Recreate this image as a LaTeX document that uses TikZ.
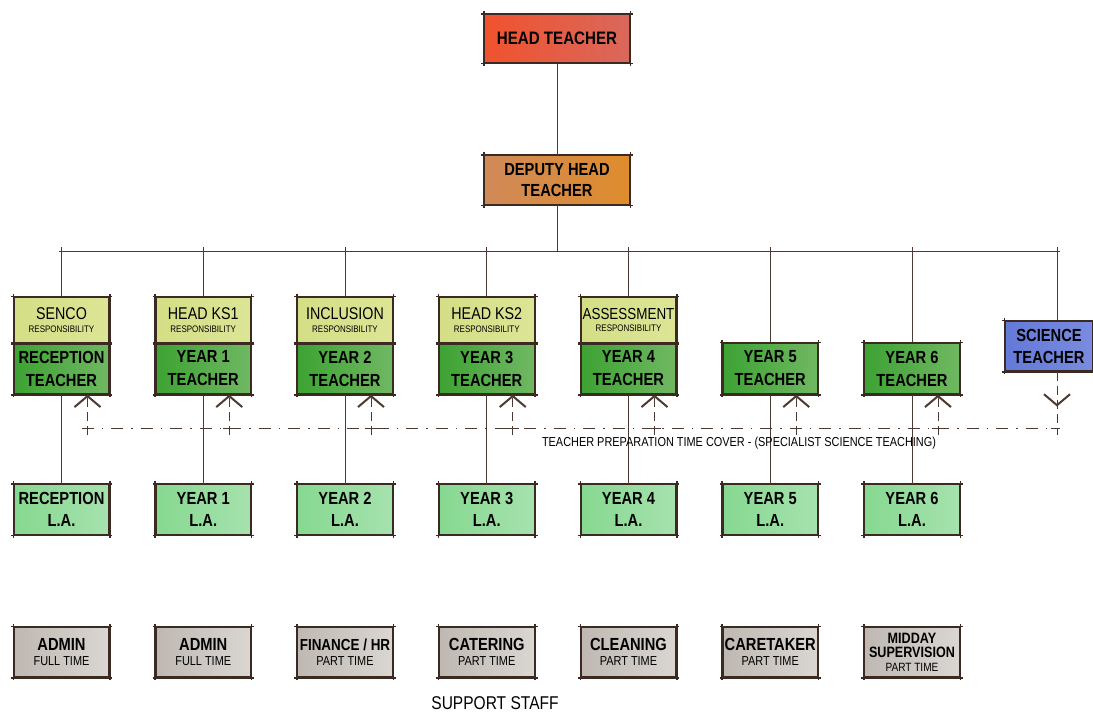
\documentclass[tikz,border=0pt]{standalone}
\usepackage{fontspec}
\setmainfont{Liberation Sans}[FakeStretch=0.84]
\usetikzlibrary{arrows.meta,decorations.markings}
\definecolor{bord}{HTML}{3B2A22}
\definecolor{lineC}{HTML}{4A3A32}
\definecolor{headL}{HTML}{F0522E}\definecolor{headR}{HTML}{D9685C}
\definecolor{depL}{HTML}{D08A58}\definecolor{depR}{HTML}{DE8C2C}
\definecolor{respL}{HTML}{D4DE86}\definecolor{respR}{HTML}{DCE595}
\definecolor{teachL}{HTML}{3DA233}\definecolor{teachR}{HTML}{70B862}
\definecolor{laL}{HTML}{86D890}\definecolor{laR}{HTML}{A6E2AE}
\definecolor{sciL}{HTML}{6479D8}\definecolor{sciR}{HTML}{7A8CE0}
\definecolor{supL}{HTML}{BFB8B2}\definecolor{supR}{HTML}{DAD6D2}
\newcommand\myT{\fontsize{9.5}{11}\selectfont}
\newcommand\myS{\fontsize{13}{15}\selectfont}
\tikzset{
  box/.style={draw=bord, line width=1.5pt, inner sep=0pt, align=center, text=black,
    minimum width=95pt},
  headbox/.style={box, left color=headL, right color=headR, minimum width=145pt, minimum height=48pt,
    font=\bfseries\fontsize{18}{22}\selectfont},
  depbox/.style={box, left color=depL, right color=depR, minimum width=145pt, minimum height=49pt,
    font=\bfseries\fontsize{17.5}{21}\selectfont},
  respbox/.style={box, left color=respL, right color=respR, minimum height=46pt,
    font=\fontsize{17}{12.5}\selectfont},
  teachbox/.style={box, left color=teachL, right color=teachR, minimum height=51pt, font=\bfseries\fontsize{17.5}{23}\selectfont},
  labox/.style={box, left color=laL, right color=laR, minimum height=50pt, font=\bfseries\fontsize{17.5}{22}\selectfont},
  scibox/.style={box, left color=sciL, right color=sciR, minimum width=88pt, minimum height=50pt, font=\bfseries\fontsize{17.5}{22}\selectfont},
  supbox/.style={box, left color=supL, right color=supR, minimum height=50pt, font=\bfseries\fontsize{17.5}{15.5}\selectfont},
  conn/.style={draw=lineC, line width=1pt},
  dashline/.style={draw=lineC, line width=1pt, dash pattern=on 12pt off 8pt on 1.5pt off 8pt},
  chev/.style={-{Straight Barb[length=11pt,width=26pt,line width=2pt]}},
}
\begin{document}
\begin{tikzpicture}[x=1pt,y=-1pt]
\useasboundingbox (0,0) rectangle (1093,713);
% top
\node[headbox] (head) at (557,38.5) {HEAD TEACHER};
\node[depbox] (dep) at (557,180) {DEPUTY HEAD\\TEACHER};
% responsibility boxes
\node[respbox] (r0) at (61.5,320) {SENCO\\{\myT RESPONSIBILITY}};
\node[respbox] (r1) at (203.25,320) {HEAD KS1\\{\myT RESPONSIBILITY}};
\node[respbox] (r2) at (345,320) {INCLUSION\\{\myT RESPONSIBILITY}};
\node[respbox] (r3) at (486.75,320) {HEAD KS2\\{\myT RESPONSIBILITY}};
\node[respbox] (r4) at (628.5,320) {{\fontsize{16}{12.5}\selectfont ASSESSMENT}\\{\myT RESPONSIBILITY}};
% teachers
\node[teachbox] (t0) at (61.5,368.5) {RECEPTION\\TEACHER};
\node[teachbox] (t1) at (203.25,368.5) {YEAR 1\\TEACHER};
\node[teachbox] (t2) at (345,368.5) {YEAR 2\\TEACHER};
\node[teachbox] (t3) at (486.75,368.5) {YEAR 3\\TEACHER};
\node[teachbox] (t4) at (628.5,368.5) {YEAR 4\\TEACHER};
\node[teachbox] (t5) at (770.25,368.5) {YEAR 5\\TEACHER};
\node[teachbox] (t6) at (912,368.5) {YEAR 6\\TEACHER};
\node[scibox] (sci) at (1049,346) {SCIENCE\\TEACHER};
% LA
\node[labox] (l0) at (61.5,509.5) {RECEPTION\\L.A.};
\node[labox] (l1) at (203.25,509.5) {YEAR 1\\L.A.};
\node[labox] (l2) at (345,509.5) {YEAR 2\\L.A.};
\node[labox] (l3) at (486.75,509.5) {YEAR 3\\L.A.};
\node[labox] (l4) at (628.5,509.5) {YEAR 4\\L.A.};
\node[labox] (l5) at (770.25,509.5) {YEAR 5\\L.A.};
\node[labox] (l6) at (912,509.5) {YEAR 6\\L.A.};
% support
\node[supbox] (s0) at (61.5,652) {ADMIN\\{\mdseries\myS FULL TIME}};
\node[supbox] (s1) at (203.25,652) {ADMIN\\{\mdseries\myS FULL TIME}};
\node[supbox] (s2) at (345,652) {{\fontsize{16}{15.5}\selectfont FINANCE / HR}\\{\mdseries\myS PART TIME}};
\node[supbox] (s3) at (486.75,652) {CATERING\\{\mdseries\myS PART TIME}};
\node[supbox] (s4) at (628.5,652) {CLEANING\\{\mdseries\myS PART TIME}};
\node[supbox] (s5) at (770.25,652) {CARETAKER\\{\mdseries\myS PART TIME}};
\node[supbox, font=\bfseries\fontsize{15}{14}\selectfont] (s6) at (912,652) {MIDDAY\\SUPERVISION\\{\mdseries\fontsize{12}{13}\selectfont PART TIME}};
% sketch overshoot
\foreach \n in {head,dep,r0,r1,r2,r3,r4,t0,t1,t2,t3,t4,t5,t6,sci,l0,l1,l2,l3,l4,l5,l6,s0,s1,s2,s3,s4,s5,s6}{
  \draw[draw=bord,line width=1.5pt] ([xshift=-2.5pt]\n.north west) -- ([xshift=2.5pt]\n.north east)
    ([xshift=-2.5pt]\n.south west) -- ([xshift=2.5pt]\n.south east)
    ([yshift=2.5pt]\n.north west) -- ([yshift=-2.5pt]\n.south west)
    ([yshift=2.5pt]\n.north east) -- ([yshift=-2.5pt]\n.south east);
}
% hierarchy
\coordinate (busL) at (61.5,251);
\coordinate (busR) at (1057,251);
\draw[conn] (head) -- (dep);
\draw[conn] (dep.south) -- (dep.south |- busL);
\draw[conn] ([xshift=-3pt]busL) -- ([xshift=3pt]busR);
\foreach \n in {r0,r1,r2,r3,r4,t5,t6}{
  \draw[conn] ([yshift=4pt]\n.north |- busL) -- (\n.north);
}
\draw[conn] ([yshift=4pt]busR) -- (busR |- sci.north);
\foreach \i in {0,...,6}{
  \draw[conn] (t\i.south) -- (l\i.north);
}
% preparation cover
\foreach \i in {0,...,6}{
  \coordinate (d\i) at ([xshift=26pt]t\i.south |- 0,428);
}
\coordinate (dS) at (1057,428);
\draw[dashline] ([xshift=-6pt]d0) -- ([xshift=3pt]dS);
\foreach \i in {0,...,6}{
  \draw[dashline, dash pattern=on 9pt off 5pt, chev] ([yshift=-7pt]d\i) -- (t\i.south -| d\i);
  \draw[conn] ([xshift=-6pt]d\i) -- ([xshift=6pt]d\i);
}
\draw[dashline, dash pattern=on 9pt off 5pt,
  postaction={decorate, decoration={markings, mark=at position 0.55 with {\arrow{Straight Barb[length=11pt,width=26pt,line width=2pt]}}}}]
  (sci.south -| dS) -- ([yshift=-7pt]dS);
\draw[conn] ([xshift=-6pt]dS) -- ([xshift=3pt]dS);
\node[font=\fontsize{13}{14}\selectfont] (lbl) at (739,443) {TEACHER PREPARATION TIME COVER - (SPECIALIST SCIENCE TEACHING)};
\node[font=\fontsize{18.5}{20}\selectfont] (suplbl) at (495,703) {SUPPORT STAFF};
\end{tikzpicture}
\end{document}
